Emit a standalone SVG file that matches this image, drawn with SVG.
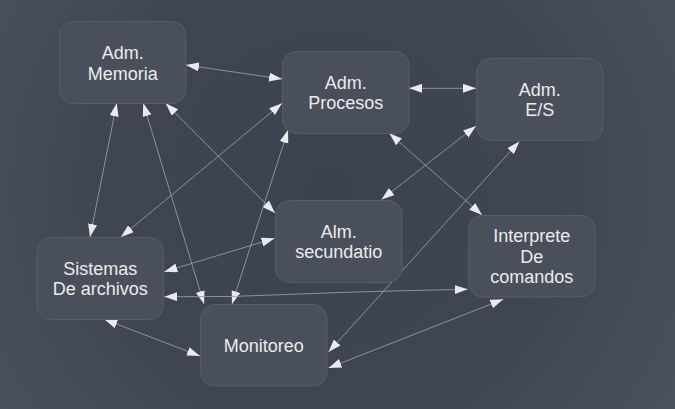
<svg xmlns="http://www.w3.org/2000/svg" width="675" height="409" viewBox="0 0 675 409">
<defs>
<radialGradient id="bg" cx="330" cy="190" r="420" gradientUnits="userSpaceOnUse">
<stop offset="0" stop-color="#3c4350"/>
<stop offset="0.55" stop-color="#3f4652"/>
<stop offset="1" stop-color="#4c525d"/>
</radialGradient>
<marker id="ah" viewBox="0 0 13 9" refX="13" refY="4.5" markerWidth="13" markerHeight="9" markerUnits="userSpaceOnUse" orient="auto-start-reverse">
<path d="M0,0 L13,4.5 L0,9 z" fill="#e9eaec"/>
</marker>
<style>
.node rect{fill:#4a505b;stroke:#575d68;stroke-width:1}
.node text{font-family:"Liberation Sans",Arial,sans-serif;font-size:18px;fill:#ebebeb;text-anchor:middle}
#edges path{fill:none;stroke:#959ba3;stroke-width:0.9;marker-start:url(#ah);marker-end:url(#ah)}
</style>
</defs>
<rect width="675" height="409" fill="url(#bg)"/>
<g id="edges">
<path d="M186,65 L282,79"/>
<path d="M409,88.3 L476,88.3"/>
<path d="M116.7,103.3 L90,237"/>
<path d="M143.3,103.3 L204,304"/>
<path d="M165.7,103.3 L275,213"/>
<path d="M282,103.3 L121,237"/>
<path d="M288,130 L232,304"/>
<path d="M389.3,133.3 L482,215"/>
<path d="M476,126 L381.5,199.5"/>
<path d="M519.3,141.5 L328.5,352"/>
<path d="M274.5,238.3 L164.3,271.7"/>
<path d="M164.3,296.7 L232,296.5 L340,292.5 Q400,290.6 467.7,289.3"/>
<path d="M104.3,319.3 L200,356"/>
<path d="M503.3,299.3 L328.5,368"/>
</g>
<g id="adm-memoria" class="node">
<rect x="59.5" y="21.5" width="126.5" height="82" rx="14"/>
<text x="122.7" y="59">Adm.</text>
<text x="122.7" y="79.5">Memoria</text>
</g>
<g id="adm-procesos" class="node">
<rect x="282.5" y="51.5" width="126.5" height="82" rx="14"/>
<text x="345.7" y="88.5">Adm.</text>
<text x="345.7" y="109.2">Procesos</text>
</g>
<g id="adm-es" class="node">
<rect x="476.5" y="58.5" width="126.5" height="82" rx="14"/>
<text x="539.7" y="95.5">Adm.</text>
<text x="539.7" y="116.2">E/S</text>
</g>
<g id="alm-secundatio" class="node">
<rect x="275.5" y="200.5" width="126.5" height="82" rx="14"/>
<text x="338.7" y="237.5">Alm.</text>
<text x="338.7" y="258.2">secundatio</text>
</g>
<g id="interprete" class="node">
<rect x="468.5" y="215.5" width="126.5" height="81.5" rx="14"/>
<text x="531.7" y="241.8">Interprete</text>
<text x="531.7" y="262.6">De</text>
<text x="531.7" y="283.3">comandos</text>
</g>
<g id="sistemas" class="node">
<rect x="37" y="237.5" width="126.5" height="82" rx="14"/>
<text x="100.2" y="274.5">Sistemas</text>
<text x="100.2" y="295.2">De archivos</text>
</g>
<g id="monitoreo" class="node">
<rect x="200.5" y="304.5" width="126.5" height="81.5" rx="14"/>
<text x="263.7" y="351.7">Monitoreo</text>
</g>
</svg>
